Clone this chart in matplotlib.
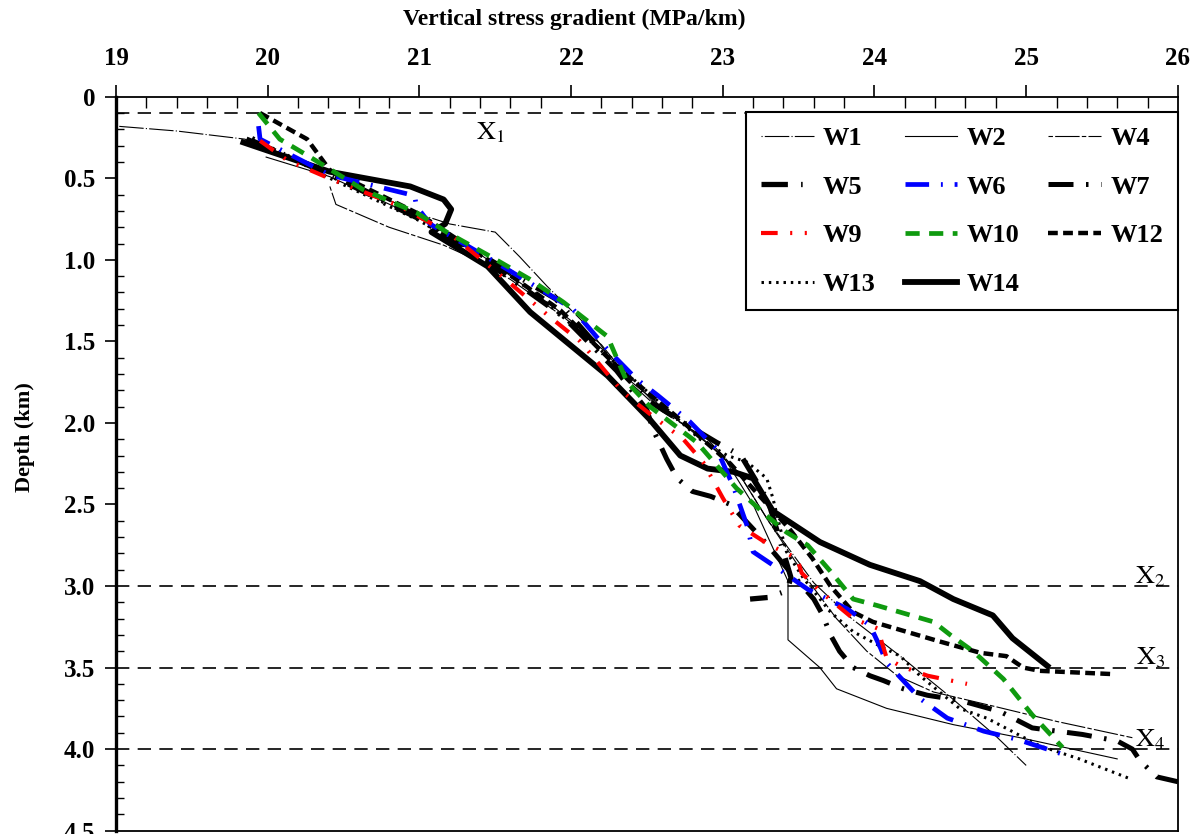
import numpy as np
import matplotlib.pyplot as plt
from matplotlib.ticker import MultipleLocator

plt.rcParams['font.family'] = ['Liberation Serif', 'DejaVu Serif']
plt.rcParams['mathtext.fontset'] = 'stix'

# data: vertical stress gradient (MPa/km) vs depth (km)
W1_x = [19.0, 19.4, 19.85, 20.4, 21.0, 21.2, 21.5, 21.66, 21.84, 22.1, 22.35, 22.6, 22.9, 23.1, 23.3, 23.6, 23.85, 24.17, 24.5, 24.8, 25.0]
W1_d = [0.18, 0.21, 0.26, 0.46, 0.72, 0.78, 0.83, 0.98, 1.16, 1.4, 1.72, 1.93, 2.1, 2.3, 2.6, 2.98, 3.2, 3.43, 3.68, 3.92, 4.1]

W2_x = [19.99, 20.41, 20.92, 21.2, 21.5, 21.9, 22.2, 22.4, 22.7, 23.0, 23.2, 23.43, 23.43, 23.64, 23.75, 24.08, 24.52, 24.96, 25.6]
W2_d = [0.37, 0.49, 0.71, 0.84, 1.03, 1.3, 1.52, 1.75, 1.98, 2.2, 2.5, 2.97, 3.33, 3.5, 3.63, 3.75, 3.85, 3.93, 4.06]

W4_x = [20.41, 20.45, 20.8, 21.16, 21.35, 21.6, 21.95, 22.3, 22.55, 22.85, 23.1, 23.3, 23.55, 23.75, 23.95, 24.15, 24.39, 24.8, 25.2, 25.7]
W4_d = [0.55, 0.66, 0.80, 0.91, 0.99, 1.12, 1.35, 1.62, 1.88, 2.08, 2.3, 2.6, 2.95, 3.2, 3.4, 3.55, 3.65, 3.74, 3.83, 3.93]

W5_x = [19.86, 20.41, 21.0, 21.5, 21.9, 22.24, 22.52, 22.78, 22.96, 23.12, 23.3, 23.45, 23.42, 23.3, 23.18]
W5_d = [0.26, 0.47, 0.74, 1.02, 1.24, 1.6, 1.87, 2.02, 2.12, 2.2, 2.48, 2.95, 3.03, 3.07, 3.08]

W6_x = [19.94, 19.95, 20.41, 20.94, 20.97, 20.98, 21.07, 21.53, 22.01, 22.24, 22.43, 22.57, 22.78, 22.96, 23.07, 23.16, 23.20, 23.36, 23.56, 23.82, 23.97, 24.04, 24.08, 24.30, 24.48, 24.72, 24.94, 25.27]
W6_d = [0.18, 0.26, 0.48, 0.60, 0.61, 0.67, 0.78, 1.03, 1.30, 1.55, 1.73, 1.83, 1.99, 2.16, 2.39, 2.63, 2.79, 2.89, 3.02, 3.14, 3.24, 3.38, 3.47, 3.69, 3.81, 3.89, 3.94, 4.04]

W7_x = [19.9, 20.41, 21.0, 21.5, 21.95, 22.3, 22.5, 22.54, 22.63, 22.70, 22.80, 22.92, 23.05, 23.25, 23.45, 23.6, 23.66, 23.71, 23.77, 23.86, 23.97, 24.06, 24.19, 24.35, 24.56, 24.83, 25.04, 25.37, 25.60, 25.70, 25.75, 25.86, 26.0]
W7_d = [0.27, 0.48, 0.75, 1.05, 1.35, 1.68, 1.92, 2.04, 2.22, 2.34, 2.42, 2.45, 2.5, 2.7, 2.92, 3.08, 3.18, 3.30, 3.40, 3.50, 3.55, 3.58, 3.63, 3.67, 3.70, 3.77, 3.87, 3.91, 3.95, 4.0, 4.07, 4.17, 4.2]

W9_x = [19.95, 20.13, 20.43, 20.65, 20.87, 21.20, 21.53, 21.86, 22.06, 22.34, 22.54, 22.74, 22.87, 23.0, 23.11, 23.31, 23.49, 23.52, 23.64, 23.86, 24.02, 24.08, 24.17, 24.35, 24.61]
W9_d = [0.27, 0.39, 0.51, 0.59, 0.67, 0.84, 1.09, 1.35, 1.50, 1.81, 1.96, 2.10, 2.24, 2.46, 2.63, 2.75, 2.83, 2.92, 3.03, 3.20, 3.26, 3.44, 3.49, 3.55, 3.60]

W10_x = [19.94, 20.08, 20.28, 20.63, 20.98, 21.18, 21.47, 21.73, 21.95, 22.24, 22.37, 22.52, 22.83, 23.09, 23.29, 23.42, 23.56, 23.71, 23.86, 24.02, 24.39, 24.50, 24.65, 24.85, 25.04, 25.24]
W10_d = [0.10, 0.26, 0.37, 0.57, 0.71, 0.83, 0.98, 1.12, 1.26, 1.47, 1.75, 1.90, 2.12, 2.40, 2.57, 2.67, 2.75, 2.91, 3.08, 3.12, 3.22, 3.30, 3.40, 3.57, 3.79, 3.99]

W12_x = [19.95, 20.26, 20.41, 21.0, 21.47, 21.93, 22.32, 22.72, 23.05, 23.44, 23.59, 23.71, 23.86, 23.99, 24.21, 24.43, 24.70, 24.87, 24.98, 25.09, 25.57]
W12_d = [0.10, 0.26, 0.45, 0.72, 1.01, 1.31, 1.67, 1.98, 2.25, 2.65, 2.83, 3.0, 3.16, 3.22, 3.28, 3.34, 3.41, 3.43, 3.50, 3.52, 3.54]

W13_x = [19.9, 20.41, 21.0, 21.47, 21.81, 22.19, 22.59, 22.85, 23.03, 23.16, 23.29, 23.33, 23.38, 23.42, 23.53, 23.71, 23.86, 24.02, 24.17, 24.30, 24.56, 24.74, 25.09, 25.35, 25.68]
W13_d = [0.25, 0.50, 0.76, 1.01, 1.24, 1.55, 1.88, 2.10, 2.20, 2.24, 2.34, 2.46, 2.65, 2.79, 2.95, 3.16, 3.28, 3.36, 3.43, 3.55, 3.75, 3.81, 3.98, 4.06, 4.18]

W14_x = [19.84, 20.41, 20.94, 21.16, 21.21, 21.17, 21.08, 21.45, 21.73, 22.24, 22.52, 22.72, 22.9, 23.07, 23.2, 23.33, 23.64, 23.97, 24.3, 24.52, 24.78, 24.91, 25.14]
W14_d = [0.28, 0.46, 0.55, 0.63, 0.69, 0.78, 0.83, 1.04, 1.32, 1.71, 1.98, 2.20, 2.28, 2.30, 2.34, 2.54, 2.73, 2.87, 2.97, 3.08, 3.18, 3.32, 3.49]

zone_depth = [0.1, 3.0, 3.5, 4.0]
zone_names = [r'$\mathrm{X}_1$', r'$\mathrm{X}_2$', r'$\mathrm{X}_3$', r'$\mathrm{X}_4$']
zone_label_x = [21.47, 25.82, 25.82, 25.82]
zone_label_d = [0.22, 2.94, 3.44, 3.94]

x_ticks = [19, 20, 21, 22, 23, 24, 25, 26]
y_ticks = [0, 0.5, 1.0, 1.5, 2.0, 2.5, 3.0, 3.5, 4.0, 4.5]
y_tick_labels = ['0', '0.5', '1.0', '1.5', '2.0', '2.5', '3.0', '3.5', '4.0', '4.5']

fig = plt.figure(figsize=(12.04, 8.34), dpi=100)
ax = fig.add_axes([0.0963, 0.004, 0.882, 0.880])

# reference depth lines
for d in zone_depth:
    ax.axhline(d, color='black', linewidth=1.2, linestyle=(0, (8, 5)), zorder=1)
for name, lx, ld in zip(zone_names, zone_label_x, zone_label_d):
    ax.text(lx, ld, name, fontsize=19, ha='center', va='center')

lines = {}
lines['W14'], = ax.plot(W14_x, W14_d, color='black', linewidth=4.2, label='W14')
lines['W5'], = ax.plot(W5_x, W5_d, color='black', linewidth=3.8, linestyle=(0, (5, 2.5, 0.3, 2.5)), label='W5')
lines['W7'], = ax.plot(W7_x, W7_d, color='black', linewidth=3.6, linestyle=(0, (5, 2.5, 0.5, 2.5)), label='W7')
lines['W12'], = ax.plot(W12_x, W12_d, color='black', linewidth=3.2, linestyle=(0, (2.2, 1.2)), label='W12')
lines['W13'], = ax.plot(W13_x, W13_d, color='black', linewidth=2.2, linestyle=(0, (0.8, 1.6)), label='W13')
lines['W1'], = ax.plot(W1_x, W1_d, color='black', linewidth=0.8, linestyle=(0, (1, 2, 22, 2)), label='W1')
lines['W2'], = ax.plot(W2_x, W2_d, color='black', linewidth=0.8, label='W2')
lines['W4'], = ax.plot(W4_x, W4_d, color='black', linewidth=0.8, linestyle=(0, (4, 2, 22, 2)), label='W4')
lines['W6'], = ax.plot(W6_x, W6_d, color='#0000ff', linewidth=3.4, linestyle=(0, (5, 2.5, 0.4, 2.5)), label='W6')
lines['W9'], = ax.plot(W9_x, W9_d, color='#ff0000', linewidth=3.0, linestyle=(0, (4, 3, 0.5, 3, 0.5, 3)), label='W9')
lines['W10'], = ax.plot(W10_x, W10_d, color='#0f9a0f', linewidth=3.4, linestyle=(0, (3, 2)), label='W10')

ax.set_xlim(19, 26)
ax.set_ylim(4.5, 0)

ax.xaxis.tick_top()
ax.xaxis.set_label_position('top')
ax.set_xticks(x_ticks, [str(v) for v in x_ticks], fontweight='bold')
ax.set_yticks(y_ticks, y_tick_labels, fontweight='bold')
ax.xaxis.set_minor_locator(MultipleLocator(0.2))
ax.yaxis.set_minor_locator(MultipleLocator(0.1))
ax.tick_params(axis='x', which='major', direction='out', length=9, width=1.2, pad=10, labelsize=18)
ax.tick_params(axis='x', which='minor', direction='in', length=8, width=1.0)
ax.tick_params(axis='y', which='major', direction='out', length=8, width=1.2, pad=7, labelsize=18)
ax.tick_params(axis='y', which='minor', direction='in', length=6, width=1.0)

for s in ax.spines.values():
    s.set_linewidth(1.3)
ax.spines['left'].set_linewidth(2.4)

ax.set_xlabel('Vertical stress gradient (MPa/km)', fontsize=17, fontweight='bold')
ax.xaxis.set_label_coords(0.432, 1.098)
ax.set_ylabel('Depth (km)', fontsize=16, fontweight='bold')
ax.yaxis.set_label_coords(-0.076, 0.536)

order = ['W1', 'W5', 'W9', 'W13', 'W2', 'W6', 'W10', 'W14', 'W4', 'W7', 'W12']
leg = ax.legend([lines[k] for k in order], order, ncol=3, loc='upper right',
                bbox_to_anchor=(1.0, 0.979), borderaxespad=0,
                prop={'family': 'Liberation Serif', 'weight': 'bold', 'size': 19},
                frameon=True, fancybox=False, edgecolor='black', framealpha=1,
                handlelength=2.0, handletextpad=0.35, columnspacing=1.1,
                labelspacing=0.95, borderpad=0.55)
leg.get_frame().set_linewidth(1.5)
leg.set_zorder(10)

plt.savefig('out.png', dpi=100)
